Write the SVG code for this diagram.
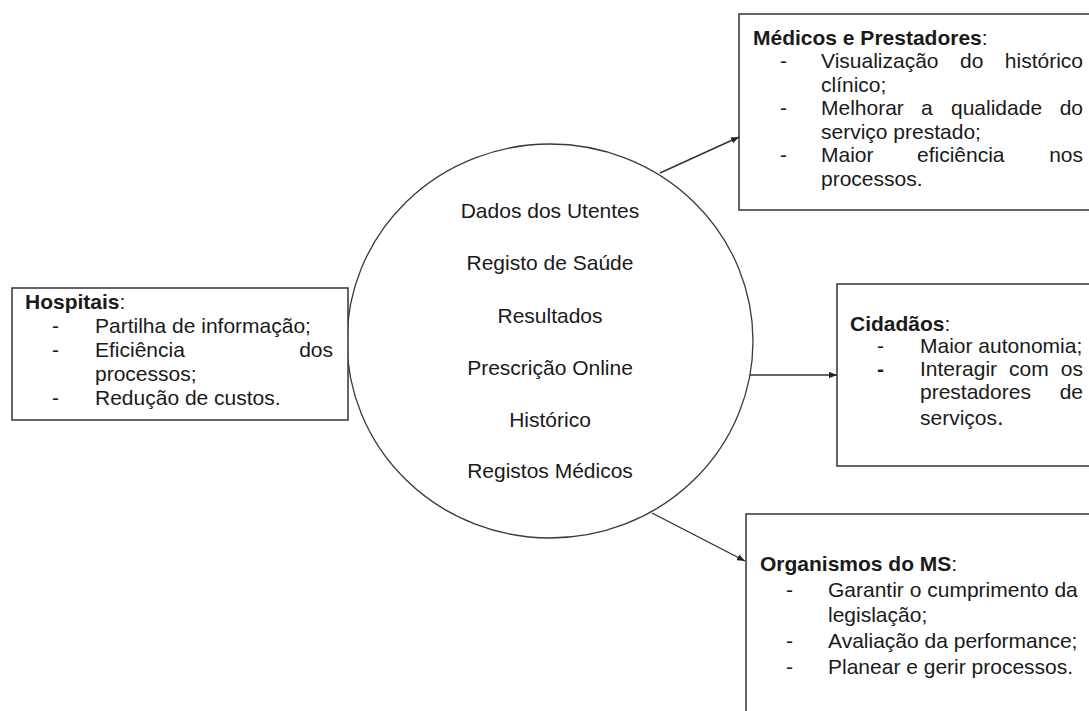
<svg xmlns="http://www.w3.org/2000/svg" width="1089" height="711" viewBox="0 0 1089 711">
  <style>
    text { font-family: "Liberation Sans", Arial, Helvetica, sans-serif; font-size: 21px; fill: #1a1a1a; }
    .b { font-weight: bold; }
    .c { text-anchor: middle; }
    .e { text-anchor: end; }
    .box { fill: #ffffff; stroke: #333333; stroke-width: 1.5; }
    .hub { fill: #ffffff; stroke: #3a3a3a; stroke-width: 1.3; }
    .link { stroke: #333333; stroke-width: 1.4; fill: none; marker-end: url(#arrow); }
  </style>
  <defs>
    <marker id="arrow" viewBox="0 0 10 8" refX="10" refY="4" markerWidth="8" markerHeight="6.4" markerUnits="userSpaceOnUse" orient="auto">
      <path d="M0,0 L10,4 L0,8 Z" fill="#222222"/>
    </marker>
  </defs>
  <rect width="1089" height="711" fill="#ffffff"/>

  <!-- central data hub -->
  <g id="hub">
    <ellipse class="hub" cx="550" cy="341" rx="203" ry="197"/>
    <text class="c" x="550" y="218">Dados dos Utentes</text>
    <text class="c" x="550" y="270">Registo de Saúde</text>
    <text class="c" x="550" y="323">Resultados</text>
    <text class="c" x="550" y="375">Prescrição Online</text>
    <text class="c" x="550" y="427">Histórico</text>
    <text class="c" x="550" y="478">Registos Médicos</text>
  </g>

  <!-- Hospitais -->
  <g id="hospitais">
    <rect class="box" x="12" y="288" width="336" height="132"/>
    <text x="25" y="309"><tspan class="b">Hospitais</tspan>:</text>
    <text x="52" y="333">-</text>
    <text x="95" y="333">Partilha de informação;</text>
    <text x="52" y="357">-</text>
    <text x="95" y="357">Eficiência</text>
    <text class="e" x="333" y="357">dos</text>
    <text x="95" y="381">processos;</text>
    <text x="52" y="405">-</text>
    <text x="95" y="405">Redução de custos.</text>
  </g>

  <!-- Médicos e Prestadores -->
  <g id="medicos">
    <rect class="box" x="739" y="14" width="360" height="196"/>
    <text x="753" y="45"><tspan class="b">Médicos e Prestadores</tspan>:</text>
    <text x="780" y="68">-</text>
    <text x="821" y="68">Visualização</text>
    <text x="960" y="68">do</text>
    <text class="e" x="1083" y="68">histórico</text>
    <text x="821" y="92">clínico;</text>
    <text x="780" y="115">-</text>
    <text x="821" y="115">Melhorar</text>
    <text x="921" y="115">a</text>
    <text x="951" y="115">qualidade</text>
    <text class="e" x="1083" y="115">do</text>
    <text x="821" y="139">serviço prestado;</text>
    <text x="780" y="162">-</text>
    <text x="821" y="162">Maior</text>
    <text x="917" y="162">eficiência</text>
    <text class="e" x="1083" y="162">nos</text>
    <text x="821" y="186">processos.</text>
  </g>

  <!-- Cidadãos -->
  <g id="cidadaos">
    <rect class="box" x="837" y="284" width="262" height="182"/>
    <text x="850" y="331"><tspan class="b">Cidadãos</tspan>:</text>
    <text x="877" y="353">-</text>
    <text x="920" y="353">Maior autonomia;</text>
    <text x="877" y="376" style="font-weight:bold">-</text>
    <text x="920" y="376">Interagir</text>
    <text x="1009" y="376">com</text>
    <text class="e" x="1083" y="376">os</text>
    <text x="920" y="399">prestadores</text>
    <text class="e" x="1083" y="399">de</text>
    <text x="920" y="425">serviços<tspan style="font-size:24px">.</tspan></text>
  </g>

  <!-- Organismos do MS -->
  <g id="organismos">
    <rect class="box" x="746" y="514" width="353" height="210"/>
    <text x="760" y="571"><tspan class="b">Organismos do MS</tspan>:</text>
    <text x="786" y="597">-</text>
    <text x="828" y="597">Garantir o cumprimento da</text>
    <text x="828" y="622">legislação;</text>
    <text x="786" y="648">-</text>
    <text x="828" y="648">Avaliação da performance;</text>
    <text x="786" y="674">-</text>
    <text x="828" y="674">Planear e gerir processos.</text>
  </g>

  <!-- connectors -->
  <g id="connectors">
    <line class="link" x1="660" y1="173" x2="739" y2="137"/>
    <line class="link" x1="750" y1="375" x2="837" y2="375"/>
    <line class="link" x1="652" y1="513" x2="745" y2="561"/>
  </g>
</svg>
